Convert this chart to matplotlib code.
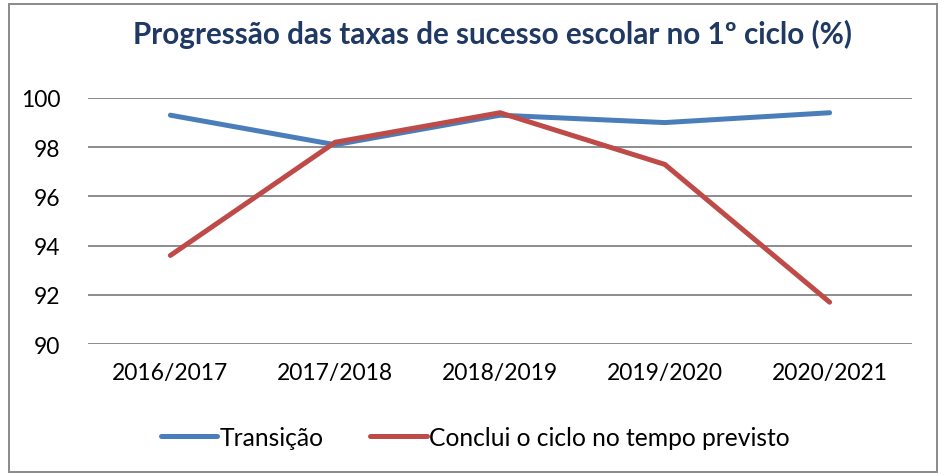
import matplotlib.pyplot as plt
from matplotlib.patches import Rectangle

# ---------------------------------------
# Data
# ---------------------------------------
years = ["2016/2017", "2017/2018", "2018/2019", "2019/2020", "2020/2021"]
transicao = [99.3, 98.1, 99.3, 99.0, 99.4]
conclui = [93.6, 98.2, 99.4, 97.3, 91.7]

y_ticks = [90, 92, 94, 96, 98, 100]

BLUE = "#4A7EBB"
RED = "#BE4B48"
TITLE = "#1F3864"
GRID = "#8C8C8C"

plt.rcParams["font.family"] = ["Lato", "DejaVu Sans"]

fig = plt.figure(figsize=(9.45, 4.77), dpi=100)
ax = fig.add_axes([0.0931, 0.2767, 0.872, 0.5158])

x = range(len(years))
ax.plot(x, transicao, color=BLUE, linewidth=3.6, label="Transição",
        solid_capstyle="round", solid_joinstyle="miter")
ax.plot(x, conclui, color=RED, linewidth=3.6, label="Conclui o ciclo no tempo previsto",
        solid_capstyle="round", solid_joinstyle="miter")

ax.set_xlim(-0.5, len(years) - 0.5)
ax.set_ylim(90, 100)
ax.set_xticks(list(x))
ax.set_xticklabels(years)
ax.set_yticks(y_ticks)
ax.tick_params(axis="both", length=0, labelsize=16.5, colors="black")
ax.tick_params(axis="x", pad=13)
ax.tick_params(axis="y", pad=20)

for s in ax.spines.values():
    s.set_visible(False)
ax.grid(True, axis="y", color=GRID, linewidth=1.4, zorder=0)
ax.set_axisbelow(True)

fig.text(0.521, 0.928, "Progressão das taxas de sucesso escolar no 1º ciclo (%)",
         ha="center", va="center", fontsize=21.3, fontweight="bold", color=TITLE)

ax.legend(loc="center", bbox_to_anchor=(0.47, -0.38), ncol=2, frameon=False,
          fontsize=17.7, handlelength=2.3, handletextpad=0.1, columnspacing=1.9)

fig.patches.append(Rectangle((0.009, 0.008), 0.983, 0.982, transform=fig.transFigure,
                             fill=False, edgecolor="#8A8A8A", linewidth=1.4))

fig.savefig("out.png", dpi=100, facecolor="white")
